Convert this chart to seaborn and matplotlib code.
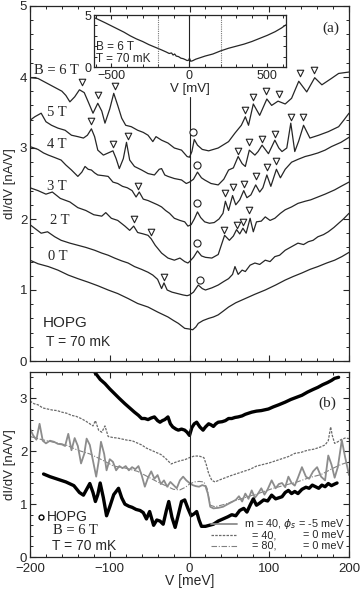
import matplotlib
matplotlib.use('Agg')
import matplotlib.pyplot as plt
from matplotlib.ticker import MultipleLocator
import seaborn as sns

# ---------------- panel (a): dI/dV at several fields ----------------
v_6t = [-200, -190, -180, -170, -160, -155, -150, -144, -138, -132,
        -127, -121, -115, -110, -106, -100, -95, -90, -85, -80,
        -73, -65, -58, -52, -46, -42, -35, -27, -19, -10,
        -3, 0, 3, 6, 10, 16, 24, 36, 49, 57,
        65, 70, 74, 80, 84, 88, 97, 103, 111, 120,
        128, 137, 147, 157, 166, 178, 187, 200]
g_6t = [3.99, 3.98, 3.92, 3.86, 3.80, 3.74, 3.65, 3.72, 3.82, 3.78,
        3.65, 3.49, 3.63, 3.52, 3.35, 3.55, 3.77, 3.60, 3.42, 3.32,
        3.30, 3.25, 3.22, 3.18, 3.09, 3.16, 3.11, 3.07, 3.00, 2.97,
        2.88, 2.87, 2.95, 3.12, 3.04, 2.98, 2.96, 3.00, 3.09, 3.21,
        3.32, 3.44, 3.32, 3.62, 3.54, 3.46, 3.69, 3.60, 3.66, 3.62,
        3.70, 3.94, 3.79, 3.99, 3.89, 3.98, 4.05, 4.07]

v_5t = [-200, -194, -186, -180, -173, -165, -156, -148, -140, -133,
        -128, -123, -119, -115, -108, -102, -96, -92, -88, -83,
        -79, -75, -69, -60, -52, -44, -38, -35, -31, -27,
        -19, -10, -4, 0, 5, 10, 15, 19, 27, 36,
        43, 49, 55, 61, 66, 70, 75, 82, 86, 91,
        99, 107, 112, 116, 122, 127, 132, 137, 143, 151,
        162, 174, 187, 194, 200]
g_5t = [3.39, 3.44, 3.49, 3.37, 3.32, 3.28, 3.25, 3.18, 3.16, 3.14,
        3.18, 3.27, 3.16, 2.97, 2.90, 2.93, 2.96, 2.85, 2.71, 2.85,
        3.08, 2.83, 2.74, 2.69, 2.64, 2.62, 2.70, 2.71, 2.62, 2.60,
        2.57, 2.55, 2.50, 2.52, 2.56, 2.66, 2.58, 2.55, 2.50, 2.48,
        2.56, 2.69, 2.72, 2.88, 2.78, 2.74, 2.97, 2.90, 2.95, 3.04,
        2.92, 3.11, 3.00, 2.95, 3.00, 3.35, 2.95, 3.10, 3.32, 3.14,
        3.18, 3.23, 3.30, 3.40, 3.49]

v_4t = [-200, -190, -183, -177, -170, -161, -155, -148, -140, -135,
        -131, -127, -123, -119, -115, -108, -102, -96, -90, -84,
        -78, -72, -67, -63, -58, -52, -46, -40, -35, -30,
        -25, -19, -12, -6, -2, 2, 6, 10, 14, 19,
        25, 31, 37, 42, 45, 49, 54, 58, 63, 68,
        72, 77, 83, 88, 92, 97, 102, 109, 114, 120,
        128, 136, 145, 152, 161, 170, 178, 190, 200]
g_4t = [3.02, 2.98, 2.93, 2.90, 2.87, 2.83, 2.76, 2.69, 2.60, 2.66,
        2.74, 2.70, 2.69, 2.65, 2.62, 2.61, 2.60, 2.52, 2.50, 2.46,
        2.44, 2.40, 2.31, 2.38, 2.28, 2.26, 2.23, 2.20, 2.17, 2.12,
        2.08, 2.01, 1.98, 1.96, 1.90, 1.92, 2.00, 2.10, 2.02, 1.96,
        1.94, 1.95, 2.00, 2.08, 2.25, 2.12, 2.33, 2.20, 2.27, 2.40,
        2.30, 2.34, 2.48, 2.38, 2.44, 2.62, 2.46, 2.70, 2.58, 2.70,
        2.80, 2.84, 2.88, 2.90, 2.93, 2.97, 3.02, 3.08, 3.15]

v_3t = [-200, -190, -180, -172, -162, -150, -140, -130, -120, -110,
        -105, -98, -90, -81, -75, -70, -65, -58, -52, -48,
        -43, -35, -27, -19, -12, -6, -2, 0, 5, 10,
        15, 20, 28, 36, 44, 50, 55, 59, 63, 67,
        71, 76, 80, 84, 90, 95, 101, 107, 114, 120,
        128, 136, 145, 152, 161, 170, 182, 190, 200]
g_3t = [2.44, 2.40, 2.35, 2.38, 2.29, 2.24, 2.16, 2.12, 2.06, 2.04,
        2.09, 2.01, 1.98, 1.90, 1.84, 1.90, 1.81, 1.79, 1.77, 1.72,
        1.63, 1.52, 1.45, 1.42, 1.45, 1.40, 1.38, 1.40, 1.46, 1.55,
        1.48, 1.46, 1.45, 1.50, 1.77, 1.70, 1.76, 1.85, 1.79, 1.87,
        1.80, 2.01, 1.82, 1.96, 1.97, 2.03, 1.98, 2.01, 2.08, 2.13,
        2.17, 2.22, 2.25, 2.27, 2.31, 2.35, 2.41, 2.46, 2.52]

v_2t = [-200, -193, -186, -178, -169, -161, -150, -140, -130, -119,
        -110, -102, -94, -85, -77, -69, -60, -52, -46, -40,
        -35, -32, -28, -22, -15, -8, -3, 0, 5, 11,
        16, 20, 28, 36, 43, 49, 54, 57, 61, 66,
        70, 76, 82, 88, 95, 101, 107, 113, 120, 128,
        136, 143, 149, 155, 161, 168, 174, 181, 187, 193,
        200]
g_2t = [1.92, 1.86, 1.80, 1.82, 1.75, 1.70, 1.66, 1.63, 1.60, 1.56,
        1.52, 1.49, 1.45, 1.41, 1.38, 1.33, 1.29, 1.25, 1.21, 1.15,
        1.02, 1.10, 1.00, 0.97, 0.95, 0.93, 0.92, 0.93, 0.97, 1.07,
        1.02, 1.00, 1.03, 1.07, 1.12, 1.16, 1.22, 1.33, 1.22, 1.28,
        1.26, 1.35, 1.38, 1.36, 1.42, 1.40, 1.47, 1.49, 1.56, 1.61,
        1.66, 1.64, 1.68, 1.70, 1.75, 1.78, 1.82, 1.88, 1.94, 2.00,
        2.08]

v_0t = [-200, -190, -177, -165, -152, -140, -127, -115, -102, -90,
        -77, -65, -52, -40, -27, -20, -14, -6, 0, 4,
        8, 11, 17, 24, 30, 36, 42, 49, 58, 70,
        82, 95, 108, 120, 130, 141, 151, 161, 172, 182,
        191, 200]
g_0t = [1.42, 1.37, 1.33, 1.28, 1.21, 1.16, 1.11, 1.06, 1.00, 0.95,
        0.88, 0.81, 0.76, 0.69, 0.62, 0.57, 0.53, 0.46, 0.45, 0.44,
        0.48, 0.53, 0.57, 0.60, 0.62, 0.65, 0.70, 0.76, 0.82, 0.88,
        0.94, 1.00, 1.07, 1.14, 1.19, 1.24, 1.29, 1.33, 1.38, 1.42,
        1.47, 1.53]

field_labels = ['B = 6 T', '5 T', '4 T', '3 T', '2 T', '0 T']

# open triangles over the peaks
tri_v = [-135, -115, -93, 70, 80, 96, 112, 139, 156,
         -123, -96, -77, 61, 75, 91, 107, 127, 142,
         -64, 45, 54, 68, 83, 97, 109,
         -70, -48, 43, 59, 67, 75,
         -32]
tri_g = [3.93, 3.75, 3.87, 3.54, 3.72, 3.80, 3.76, 4.05, 4.10,
         3.38, 3.06, 3.17, 2.96, 3.08, 3.13, 3.20, 3.43, 3.43,
         2.47, 2.36, 2.45, 2.50, 2.60, 2.73, 2.81,
         2.00, 1.82, 1.85, 1.92, 1.96, 2.12,
         1.19]
# open circles over the zero-bias peak
circ_v = [5, 10, 10, 10, 13]
circ_g = [3.23, 2.76, 2.22, 1.66, 1.14]

# inset, wide bias range at 6 T
v_wide = [-610, -575, -540, -500, -460, -420, -380, -340, -300, -260,
          -220, -180, -150, -130, -115, -105, -95, -85, -70, -55,
          -40, -25, -15, -5, 0, 8, 20, 40, 70, 100,
          150, 200, 250, 300, 350, 400, 450, 500, 550, 590,
          618]
g_wide = [4.75, 4.50, 4.25, 3.95, 3.65, 3.35, 3.00, 2.70, 2.45, 2.15,
          1.90, 1.65, 1.45, 1.30, 1.35, 1.15, 1.25, 1.05, 1.00, 0.85,
          0.80, 0.70, 0.62, 0.65, 0.85, 0.55, 0.60, 0.75, 0.90, 1.05,
          1.25, 1.55, 1.80, 2.00, 2.20, 2.45, 2.75, 3.05, 3.40, 3.75,
          4.05]

# ---------------- panel (b): data vs. model ----------------
v_hopg_hi = [-122, -112, -106, -100, -94, -88, -81, -75, -69, -64,
             -60, -56, -52, -48, -44, -40, -37, -34, -31, -27,
             -24, -21, -17, -14, -10, -6, -3, 0, 3, 6,
             9, 13, 17, 20, 24, 27, 30, 33, 36, 41,
             45, 49, 53, 57, 61, 66, 70, 74, 78, 84,
             90, 99, 105, 112, 120, 127, 134, 141, 148, 155,
             161, 167, 173, 178, 182, 187]
g_hopg_hi = [3.56, 3.36, 3.28, 3.18, 3.09, 3.00, 2.90, 2.82, 2.74, 2.68,
             2.62, 2.62, 2.60, 2.63, 2.65, 2.58, 2.55, 2.58, 2.60, 2.65,
             2.52, 2.46, 2.42, 2.40, 2.42, 2.40, 2.36, 2.30, 2.45, 2.52,
             2.55, 2.46, 2.40, 2.46, 2.52, 2.50, 2.47, 2.52, 2.55, 2.56,
             2.58, 2.62, 2.62, 2.64, 2.65, 2.67, 2.70, 2.72, 2.74, 2.76,
             2.77, 2.80, 2.84, 2.88, 2.93, 2.98, 3.02, 3.06, 3.12, 3.17,
             3.21, 3.26, 3.30, 3.34, 3.38, 3.40]

v_hopg_lo = [-183, -175, -165, -155, -145, -138, -133, -129, -125, -121,
             -118, -115, -112, -108, -104, -100, -95, -89, -85, -81,
             -76, -72, -67, -62, -58, -54, -50, -45, -41, -37,
             -33, -29, -26, -22, -18, -14, -10, -6, -2, 2,
             6, 9, 12, 15, 20, 25, 30, 36, 42, 48,
             53, 58, 63, 68, 72, 76, 80, 84, 88, 93,
             98, 103, 108, 112, 116, 120, 124, 128, 132, 136,
             141, 146, 150, 154, 158, 162, 166, 170, 174, 178,
             182, 185]
g_hopg_lo = [1.57, 1.52, 1.47, 1.42, 1.35, 1.22, 1.17, 1.28, 1.39, 1.22,
             1.05, 1.18, 1.40, 1.12, 0.78, 0.95, 1.18, 1.30, 1.12, 1.00,
             0.96, 0.94, 0.90, 0.88, 0.84, 0.72, 0.86, 0.60, 0.70, 0.68,
             0.62, 0.88, 1.05, 0.75, 0.56, 0.80, 1.05, 1.08, 0.92, 0.78,
             0.82, 0.86, 0.70, 0.58, 0.58, 0.60, 0.62, 0.68, 0.72, 0.76,
             0.80, 0.78, 0.88, 0.92, 0.85, 0.98, 1.10, 0.98, 1.02, 1.08,
             1.06, 1.17, 1.10, 1.12, 1.14, 1.22, 1.26, 1.20, 1.24, 1.20,
             1.28, 1.32, 1.30, 1.36, 1.33, 1.30, 1.36, 1.33, 1.39, 1.35,
             1.38, 1.40]

v_m40_phi5 = [-200, -196, -192, -188, -184, -180, -175, -170, -165, -160,
              -156, -152, -148, -144, -140, -136, -132, -129, -125, -121,
              -117, -114, -111, -107, -104, -100, -96, -92, -88, -84,
              -80, -76, -72, -68, -64, -60, -56, -52, -48, -44,
              -40, -36, -32, -28, -24, -20, -16, -12, -8, -4,
              0, 4, 8, 12, 16, 20, 23, 26, 30, 36,
              42, 48, 53, 58, 62, 66, 70, 74, 78, 82,
              86, 90, 94, 98, 103, 108, 112, 116, 120, 124,
              128, 132, 136, 141, 146, 150, 155, 160, 165, 170,
              174, 178, 182, 186, 191, 195, 200]
g_m40_phi5 = [2.43, 2.30, 2.22, 2.52, 2.20, 2.15, 2.20, 2.18, 2.14, 2.13,
              2.10, 2.33, 2.02, 2.25, 2.10, 1.77, 1.95, 2.24, 2.12, 1.82,
              1.52, 1.80, 2.18, 1.95, 1.64, 1.85, 1.80, 1.64, 1.72, 1.68,
              1.72, 1.64, 1.70, 1.66, 1.72, 1.55, 1.33, 1.50, 1.62, 1.48,
              1.55, 1.38, 1.45, 1.33, 1.42, 1.36, 1.30, 1.45, 1.52, 1.45,
              1.40, 1.36, 1.34, 1.33, 1.36, 1.34, 1.20, 0.95, 0.92, 0.93,
              0.95, 1.00, 1.04, 1.08, 1.15, 1.05, 1.20, 1.10, 1.26, 1.12,
              1.20, 1.30, 1.18, 1.28, 1.45, 1.30, 1.38, 1.40, 1.32, 1.52,
              1.40, 1.35, 1.50, 1.70, 1.52, 1.48, 1.62, 1.70, 1.52, 1.45,
              1.92, 1.75, 1.50, 1.70, 2.21, 1.90, 1.55]

v_m40_phi0 = [-200, -195, -190, -184, -178, -172, -166, -160, -154, -148,
              -142, -136, -130, -125, -121, -118, -114, -110, -106, -102,
              -96, -90, -84, -78, -72, -66, -60, -54, -48, -42,
              -36, -31, -27, -23, -18, -12, -6, 0, 6, 12,
              18, 21, 24, 28, 32, 38, 45, 52, 60, 68,
              76, 84, 92, 100, 108, 116, 124, 132, 140, 148,
              156, 164, 170, 174, 177, 179, 182, 186, 190, 195,
              200]
g_m40_phi0 = [2.95, 2.90, 2.88, 2.82, 2.80, 2.78, 2.77, 2.74, 2.72, 2.68,
              2.66, 2.62, 2.57, 2.52, 2.48, 2.58, 2.40, 2.36, 2.48, 2.28,
              2.26, 2.25, 2.23, 2.21, 2.20, 2.16, 2.12, 2.06, 2.02, 1.98,
              1.94, 1.88, 1.82, 1.76, 1.79, 1.82, 1.84, 1.88, 1.91, 1.91,
              1.88, 1.75, 1.58, 1.45, 1.42, 1.46, 1.50, 1.54, 1.58, 1.62,
              1.66, 1.72, 1.75, 1.78, 1.82, 1.86, 1.90, 1.96, 1.98, 2.02,
              2.04, 2.08, 2.12, 2.20, 2.46, 2.30, 2.15, 2.18, 2.22, 2.25,
              2.24]

v_m80_phi0 = [-200, -185, -170, -155, -140, -125, -110, -95, -80, -65,
              -50, -40, -30, -20, -12, -5, 0, 6, 12, 18,
              22, 26, 32, 45, 60, 75, 90, 105, 120, 135,
              150, 165, 180, 190, 200]
g_m80_phi0 = [2.28, 2.22, 2.17, 2.12, 2.02, 1.95, 1.84, 1.72, 1.68, 1.62,
              1.50, 1.42, 1.35, 1.28, 1.27, 1.32, 1.38, 1.42, 1.43, 1.42,
              1.30, 0.98, 0.95, 1.00, 1.08, 1.15, 1.22, 1.30, 1.36, 1.42,
              1.50, 1.56, 1.68, 1.75, 1.80]

# ---------------- figure ----------------
sns.set_style('ticks')
plt.rcParams['font.family'] = ['Liberation Sans', 'DejaVu Sans']
plt.rcParams['mathtext.fontset'] = 'dejavusans'
SERIF = ['Liberation Serif', 'DejaVu Serif']
W, H = 360, 590

fig = plt.figure(figsize=(3.6, 5.9), dpi=100)


def box(l, t, r, b):
    return [l / W, 1 - b / H, (r - l) / W, (b - t) / H]


def ftext(x, y, s, **kw):
    kw.setdefault('va', 'center')
    fig.text(x / W, 1 - y / H, s, **kw)


def style_axes(ax, xmin, ymin, size=9.5):
    ax.xaxis.set_minor_locator(MultipleLocator(xmin))
    ax.yaxis.set_minor_locator(MultipleLocator(ymin))
    ax.tick_params(which='both', direction='in', top=True, right=True,
                   labelsize=size, pad=2)
    ax.tick_params(which='major', length=4, width=0.8)
    ax.tick_params(which='minor', length=2.5, width=0.7)
    for sp in ax.spines.values():
        sp.set_linewidth(0.9)


ax_a = fig.add_axes(box(30, 6, 349, 361))
ax_b = fig.add_axes(box(30, 372, 349, 557))
ax_in = fig.add_axes(box(94, 15, 286, 67))

# panel (a)
curves_a = [(v_6t, g_6t), (v_5t, g_5t), (v_4t, g_4t),
            (v_3t, g_3t), (v_2t, g_2t), (v_0t, g_0t)]
for vv, gg in curves_a:
    sns.lineplot(x=vv, y=gg, ax=ax_a, color='#262626', lw=0.9,
                 estimator=None, sort=False)
sns.scatterplot(x=tri_v, y=tri_g, ax=ax_a, marker='v', s=22,
                facecolor='white', edgecolor='#222222', linewidth=0.8, zorder=4)
sns.scatterplot(x=circ_v, y=circ_g, ax=ax_a, marker='o', s=26,
                facecolor='white', edgecolor='#222222', linewidth=0.8, zorder=4)
ax_a.axvline(0, ymin=0, ymax=3.72 / 5, color='#222222', lw=0.8)
ax_a.set_xlim(-200, 200)
ax_a.set_ylim(0, 5)
ax_a.set_xticks([-200, -100, 0, 100, 200])
ax_a.set_yticks([0, 1, 2, 3, 4, 5])
style_axes(ax_a, 20, 0.2)
ax_a.tick_params(labelbottom=False)
ax_a.set_ylabel('dI/dV [nA/V]', fontsize=9.5, labelpad=3)

label_pos = [(34, 70), (47, 113), (47, 145), (47, 186), (50, 220), (48, 257)]
for (x, y), lab in zip(label_pos, field_labels):
    ftext(x, y, lab, family=SERIF, fontsize=10.5)
ftext(322, 28, '(a)', family=SERIF, fontsize=11)
ftext(43, 323, 'HOPG', fontsize=11)
ftext(46, 342, 'T = 70 mK', fontsize=10)

# inset
ax_in.set_facecolor('white')
sns.lineplot(x=v_wide, y=g_wide, ax=ax_in, color='#262626', lw=0.9,
             estimator=None, sort=False)
ax_in.axvline(0, color='#222222', lw=0.8)
for xv in (-200, 200):
    ax_in.axvline(xv, color='#777777', lw=0.8, ls=(0, (1, 1)))
ax_in.set_xlim(-612, 619)
ax_in.set_ylim(0, 5)
ax_in.set_xticks([-500, 0, 500])
ax_in.set_yticks([0, 5])
style_axes(ax_in, 100, 1, size=9)
ax_in.tick_params(which='major', length=3)
ax_in.tick_params(which='minor', length=2)
ax_in.set_xlabel('V [mV]', fontsize=9.5, labelpad=1)
ftext(96, 47, 'B = 6 T', fontsize=8.5)
ftext(96, 59, 'T = 70 mK', fontsize=8.5)

# panel (b)
sns.lineplot(x=v_m80_phi0, y=g_m80_phi0, ax=ax_b, color='#808080', lw=0.8,
             linestyle=(0, (5, 1.5, 1, 1.5)), estimator=None, sort=False)
sns.lineplot(x=v_m40_phi0, y=g_m40_phi0, ax=ax_b, color='#6a6a6a', lw=0.9,
             linestyle=(0, (2, 1)), estimator=None, sort=False)
sns.lineplot(x=v_m40_phi5, y=g_m40_phi5, ax=ax_b, color='#8c8c8c', lw=1.3,
             estimator=None, sort=False)
for vv, gg in [(v_hopg_hi, g_hopg_hi), (v_hopg_lo, g_hopg_lo)]:
    sns.lineplot(x=vv, y=gg, ax=ax_b, color='black', lw=2.4,
                 estimator=None, sort=False)
ax_b.axvline(0, color='#222222', lw=0.8)
ax_b.set_xlim(-200, 200)
ax_b.set_ylim(0, 3.5)
ax_b.set_xticks([-200, -100, 0, 100, 200])
ax_b.set_yticks([0, 1, 2, 3])
style_axes(ax_b, 20, 0.2)
ax_b.tick_params(axis='x', pad=4.5)
ax_b.set_xlabel('V [meV]', fontsize=10, labelpad=-1)
ax_b.set_ylabel('dI/dV [nA/V]', fontsize=9.5, labelpad=3)

ftext(318, 403, '(b)', family=SERIF, fontsize=11)
ax_b.plot([40.5 / W], [1 - 517 / H], 'o', ms=3.5, mfc='white', mec='black',
          mew=1.0, transform=fig.transFigure, clip_on=False)
ftext(47, 517, 'HOPG', fontsize=10)
ftext(53, 531, 'B = 6 T', family=SERIF, fontsize=10.5)
ftext(52, 546, 'T = 70 mK', fontsize=10)

leg_styles = [dict(color='#8c8c8c', lw=1.3, ls='-'),
              dict(color='#6a6a6a', lw=0.9, ls=(0, (2, 1))),
              dict(color='#808080', lw=0.8, ls=(0, (5, 1.5, 1, 1.5)))]
leg_y = [524, 535, 546]
for yy, st in zip(leg_y, leg_styles):
    ax_b.plot([211 / W, 237 / W], [1 - yy / H] * 2, transform=fig.transFigure,
              clip_on=False, **st)
ftext(344, 524, 'm = 40, $\\phi_s$ = -5 meV', fontsize=7.8, ha='right')
ftext(252, 535, '= 40,', fontsize=7.8)
ftext(344, 535, '= 0 meV', fontsize=7.8, ha='right')
ftext(252, 546, '= 80,', fontsize=7.8)
ftext(344, 546, '= 0 meV', fontsize=7.8, ha='right')

fig.savefig('out.png', dpi=100)
